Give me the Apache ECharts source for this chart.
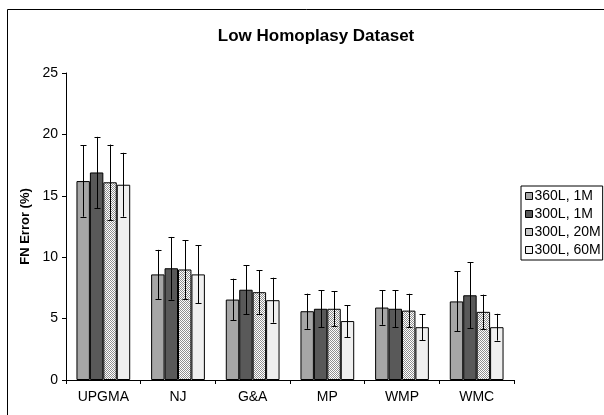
<!DOCTYPE html>
<html><head><meta charset="utf-8">
<script src="https://cdn.jsdelivr.net/npm/echarts@6/dist/echarts.min.js"></script>
<style>html,body{margin:0;padding:0;background:#fff}#c{width:604px;height:415px}</style>
</head><body><div id="c"></div>
<script>
const categories = ['UPGMA', 'NJ', 'G&A', 'MP', 'WMP', 'WMC'];
const seriesNames = ['360L, 1M', '300L, 1M', '300L, 20M', '300L, 60M'];
const s360L1M  = [16.2, 8.6, 6.55, 5.6, 5.9, 6.4];
const s300L1M  = [16.9, 9.1, 7.35, 5.8, 5.8, 6.9];
const s300L20M = [16.1, 9.0, 7.15, 5.8, 5.65, 5.55];
const s300L60M = [15.9, 8.6, 6.5, 4.8, 4.3, 4.3];
const e360L1M  = [2.9, 2.0, 1.7, 1.43, 1.4, 2.45];
const e300L1M  = [2.9, 2.55, 2.0, 1.5, 1.5, 2.67];
const e300L20M = [3.07, 2.4, 1.8, 1.43, 1.37, 1.4];
const e300L60M = [2.6, 2.37, 1.83, 1.3, 1.07, 1.09];
const yTicks = { min: 0, max: 25, interval: 5 };

const values = [s360L1M, s300L1M, s300L20M, s300L60M];
const errors = [e360L1M, e300L1M, e300L20M, e300L60M];

// dotted pattern
const pc = document.createElement('canvas');
pc.width = 2; pc.height = 2;
const pctx = pc.getContext('2d');
pctx.fillStyle = '#ffffff'; pctx.fillRect(0, 0, 2, 2);
pctx.fillStyle = '#8f8f8f'; pctx.fillRect(0, 0, 1, 1); pctx.fillRect(1, 1, 1, 1);

const fills = ['#a6a6a6', '#595959', { image: pc, repeat: 'repeat' }, '#efefef'];
const GAP = 0.28;

const errData = [];
for (let s = 0; s < 4; s++) for (let c = 0; c < categories.length; c++) errData.push([c, s, values[s][c], errors[s][c]]);

const chart = echarts.init(document.getElementById('c'));
const series = seriesNames.map((n, i) => ({
  name: n, type: 'bar', data: values[i], barGap: '0%', barCategoryGap: (GAP * 100) + '%',
  itemStyle: { color: fills[i], borderColor: '#000', borderWidth: 1 },
  emphasis: { disabled: true }, z: 2
}));
series.push({
  type: 'custom', data: errData, encode: { x: 0, y: 2 }, z: 5, silent: true,
  renderItem: function (params, api) {
    const c = api.value(0), s = api.value(1), v = api.value(2), e = api.value(3);
    const catW = api.size([1, 0])[0];
    const groupW = catW * (1 - GAP);
    const bw = groupW / 4;
    const x0 = api.coord([c, 0])[0];
    const cx = Math.round(x0 - groupW / 2 + bw * (s + 0.5)) + 0.5;
    const top = api.coord([c, v + e])[1];
    const bot = api.coord([c, v - e])[1];
    const st = { stroke: '#000', lineWidth: 1 };
    return { type: 'group', children: [
      { type: 'line', shape: { x1: cx, y1: top, x2: cx, y2: bot }, style: st },
      { type: 'line', shape: { x1: cx - 3, y1: Math.round(top) + 0.5, x2: cx + 3, y2: Math.round(top) + 0.5 }, style: st },
      { type: 'line', shape: { x1: cx - 3, y1: Math.round(bot) + 0.5, x2: cx + 3, y2: Math.round(bot) + 0.5 }, style: st }
    ]};
  }
});

chart.setOption({
  animation: false,
  textStyle: { fontFamily: 'Liberation Sans, Arial, sans-serif' },
  graphic: [{ type: 'rect', shape: { x: 7.5, y: 9.5, width: 700, height: 500 }, style: { fill: 'none', stroke: '#000', lineWidth: 1 }, silent: true }],
  title: { text: 'Low Homoplasy Dataset', left: 311, top: 23, textAlign: 'center',
    textStyle: { fontSize: 17, fontWeight: 'bold', color: '#000', fontFamily: 'Liberation Sans, Arial, sans-serif' } },
  legend: {
    orient: 'vertical', left: 521, top: 186, data: seriesNames,
    itemWidth: 7, itemHeight: 7, itemGap: 4, padding: [3, 2, 3, 4],
    borderColor: '#000', borderWidth: 1, icon: 'rect',
    itemStyle: { borderColor: '#000', borderWidth: 1 },
    textStyle: { fontSize: 14, color: '#000', padding: [0, 0, 0, -3] }
  },
  grid: { left: 66, right: 90, top: 73, bottom: 35, containLabel: false },
  xAxis: {
    type: 'category', data: categories,
    axisLine: { lineStyle: { color: '#000', width: 1 } },
    axisTick: { show: true, alignWithLabel: false, length: 4, lineStyle: { color: '#000' } },
    axisLabel: { color: '#000', fontSize: 14, margin: 10 }
  },
  yAxis: {
    type: 'value', min: yTicks.min, max: yTicks.max, interval: yTicks.interval,
    name: 'FN Error (%)', nameLocation: 'middle', nameGap: 33, nameRotate: 90,
    nameTextStyle: { fontSize: 13, fontWeight: 'bold', color: '#000' },
    axisLine: { show: true, lineStyle: { color: '#000', width: 1 } },
    axisTick: { show: true, length: 4, lineStyle: { color: '#000' } },
    splitLine: { show: false },
    axisLabel: { color: '#000', fontSize: 14, margin: 8 }
  },
  series: series
});
</script></body></html>
